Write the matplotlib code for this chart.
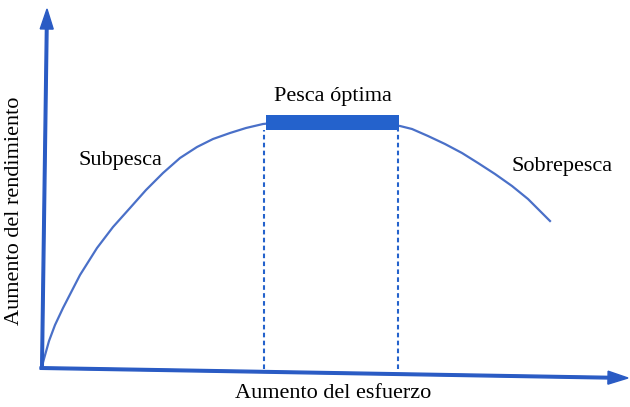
import matplotlib.pyplot as plt
import numpy as np

plt.rcParams["font.family"] = ["Liberation Serif", "DejaVu Serif"]

# Yield curve (effort, yield), arbitrary units
effort = [0, 7, 13, 21, 38, 55, 71, 88, 104, 121, 138, 155, 171, 188, 204, 221,
          290, 358, 370, 386, 403, 420, 436, 453, 470, 486, 496, 508]
yield_ = [0, 25, 41, 58, 91, 118, 139, 158, 176, 193, 208, 219, 227, 233, 238, 242,
          249, 240, 237, 230, 222, 213, 203, 192, 180, 167, 157, 145]

# Optimal fishing band
optimo_inicio, optimo_fin = 224, 357
optimo_base, optimo_alto = 236, 15

labels = {
    "optimo": "Pesca óptima",
    "sub": "Subpesca",
    "sobre": "Sobrepesca",
    "x": "Aumento del esfuerzo",
    "y": "Aumento del rendimiento",
}

axis_color = "#2a5bc4"
curve_color = "#4a70c8"
bar_color = "#2462cc"

fig = plt.figure(figsize=(6.3, 4.07), dpi=100)
ax = fig.add_axes([0, 0, 1, 1])
ax.set_xlim(-42, 588)
ax.set_ylim(-41, 366)
ax.axis("off")

# axes drawn as arrows (slightly skewed, like the scan)
ax.arrow(0, 0, 5, 357, width=2.6, head_width=13, head_length=20,
         length_includes_head=True, color=axis_color, zorder=3)
ax.arrow(-2, -2, 588, -10, width=2.6, head_width=13, head_length=20,
         length_includes_head=True, color=axis_color, zorder=3)

# curve
ax.plot(effort, yield_, color=curve_color, lw=1.6, zorder=2,
        solid_joinstyle="round")

# optimal band and its dotted guides
ax.broken_barh([(optimo_inicio, optimo_fin - optimo_inicio)],
               (optimo_base, optimo_alto), facecolors=bar_color, zorder=4)
ax.vlines([optimo_inicio - 2, optimo_fin - 1], -3, optimo_base,
          colors=bar_color, lw=1.5, linestyles=(0, (2.2, 1.6)), zorder=1)

# texts
ax.text((optimo_inicio + optimo_fin) / 2, 270, labels["optimo"],
        ha="center", va="center", fontsize=16)
ax.text(78, 205, labels["sub"], ha="center", va="center", fontsize=16)
ax.text(520, 200, labels["sobre"], ha="center", va="center", fontsize=16)
ax.text(291, -28, labels["x"], ha="center", va="center", fontsize=16)
ax.text(-27, 155, labels["y"], ha="center", va="center", fontsize=16,
        rotation=90)

fig.savefig("out.png", dpi=100)
